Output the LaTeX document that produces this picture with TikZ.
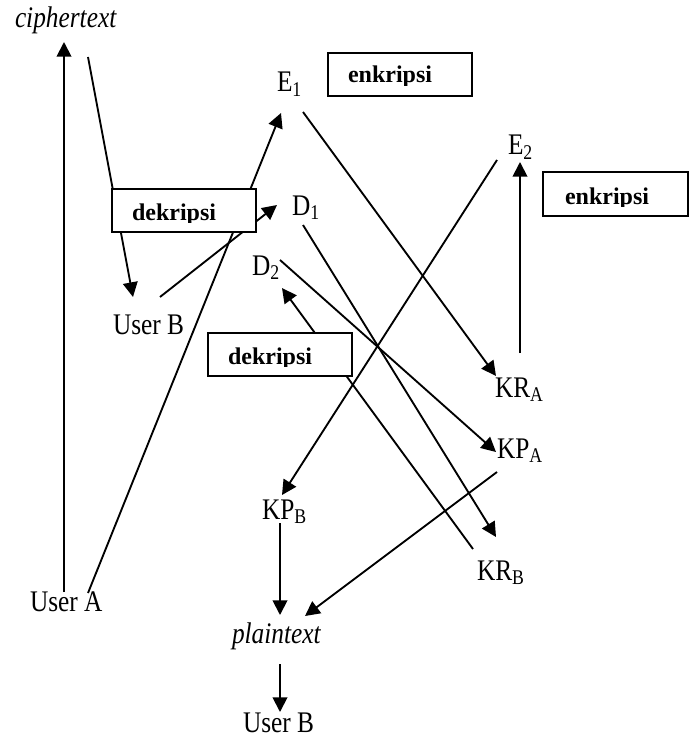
\documentclass[tikz,border=0pt]{standalone}
\usepackage{fontspec}
\usepackage{graphicx}
\setmainfont{Liberation Serif}
\usetikzlibrary{arrows.meta}
\newcommand\stretchtx[1]{\scalebox{1}[1.18]{#1}}
\tikzset{
  lbl/.style={inner sep=0pt, outer sep=0pt, anchor=base west, font=\fontsize{19}{22}\selectfont},
  btxt/.style={inner sep=0pt, outer sep=0pt, anchor=base west, font=\fontsize{18}{21}\selectfont\bfseries},
  conn/.style={line width=1.4pt},
  arr/.style={conn, -{Triangle[length=11pt,width=11pt]}},
  boxst/.style={draw, line width=1.3pt, fill=white, inner sep=0pt}
}
\begin{document}
\begin{tikzpicture}[x=0.75pt,y=-0.75pt]
\useasboundingbox (0,0) rectangle (694,738);

% text nodes
\node[lbl] (cipher) at (15,28) {\stretchtx{\itshape ciphertext}};
\node[lbl] (E1) at (277,92) {\stretchtx{E\textsubscript{1}}};
\node[lbl] (D1) at (292,215) {\stretchtx{D\textsubscript{1}}};
\node[lbl] (D2) at (252,275) {\stretchtx{D\textsubscript{2}}};
\node[lbl] (E2) at (508,155) {\stretchtx{E\textsubscript{2}}};
\node[lbl] (userB1) at (113,334) {\stretchtx{User B}};
\node[lbl] (KRA) at (495,397) {\stretchtx{KR\textsubscript{A}}};
\node[lbl] (KPA) at (497,458) {\stretchtx{KP\textsubscript{A}}};
\node[lbl] (KPB) at (262,519) {\stretchtx{KP\textsubscript{B}}};
\node[lbl] (KRB) at (477,580) {\stretchtx{KR\textsubscript{B}}};
\node[lbl] (userA) at (30,611) {\stretchtx{User A}};
\node[lbl] (plain) at (232,643) {\stretchtx{\itshape plaintext}};
\node[lbl] (userB2) at (243,732) {\stretchtx{User B}};

% connector end points
\coordinate (uaV) at (64,592);
\coordinate (ciIn) at (64,42);
\coordinate (ciOut) at (88,57);
\coordinate (ub1In) at (133,297);
\coordinate (ub1Out) at (160,297);
\coordinate (d1In) at (277,205);
\coordinate (uaOut) at (88,593);
\coordinate (e1In) at (281,113);
\coordinate (e1Out) at (303,112);
\coordinate (kraIn) at (496,376);
\coordinate (d1Out) at (303,225);
\coordinate (krbIn) at (496,537);
\coordinate (d2Out) at (280,260);
\coordinate (kpaIn) at (496,452);
\coordinate (e2Out) at (497,160);
\coordinate (kpbIn) at (282,495);
\coordinate (kraOut) at (520,353);
\coordinate (e2In) at (520,162);
\coordinate (krbOut) at (473,549);
\coordinate (d2In) at (282,288);
\coordinate (kpaOut) at (497,472);
\coordinate (plIn2) at (305,616);
\coordinate (kpbOut) at (280,523);
\coordinate (plIn1) at (280,615);
\coordinate (plOut) at (280,664);
\coordinate (ub2In) at (280,712);

% connectors
\draw[arr] (uaV) -- (ciIn);
\draw[arr] (ciOut) -- (ub1In);
\draw[arr] (ub1Out) -- (d1In);
\draw[arr] (uaOut) -- (e1In);
\draw[arr] (e1Out) -- (kraIn);
\draw[arr] (d1Out) -- (krbIn);
\draw[arr] (d2Out) -- (kpaIn);
\draw[arr] (e2Out) -- (kpbIn);
\draw[arr] (kraOut) -- (e2In);
\draw[arr] (krbOut) -- (d2In);
\draw[arr] (kpaOut) -- (plIn2);
\draw[arr] (kpbOut) -- (plIn1);
\draw[arr] (plOut) -- (ub2In);

% boxes
\node[boxst, minimum width=108pt, minimum height=32.25pt] (enk1) at (400,74.5) {};
\node[boxst, minimum width=108pt, minimum height=32.25pt] (dek1) at (184,210.5) {};
\node[boxst, minimum width=108.75pt, minimum height=33pt] (enk2) at (615.5,194) {};
\node[boxst, minimum width=108pt, minimum height=32.25pt] (dek2) at (280,354.5) {};

\begin{scope}
\clip (328,53) rectangle (472,85.5);
\node[btxt] (enk1t) at (348,83) {enkripsi};
\end{scope}
\begin{scope}
\clip (112,189) rectangle (256,222.5);
\node[btxt] (dek1t) at (132,220) {dekripsi};
\end{scope}
\begin{scope}
\clip (543,172) rectangle (688,206.5);
\node[btxt] (enk2t) at (565,204) {enkripsi};
\end{scope}
\begin{scope}
\clip (208,333) rectangle (352,366.5);
\node[btxt] (dek2t) at (228,364) {dekripsi};
\end{scope}
\end{tikzpicture}
\end{document}
